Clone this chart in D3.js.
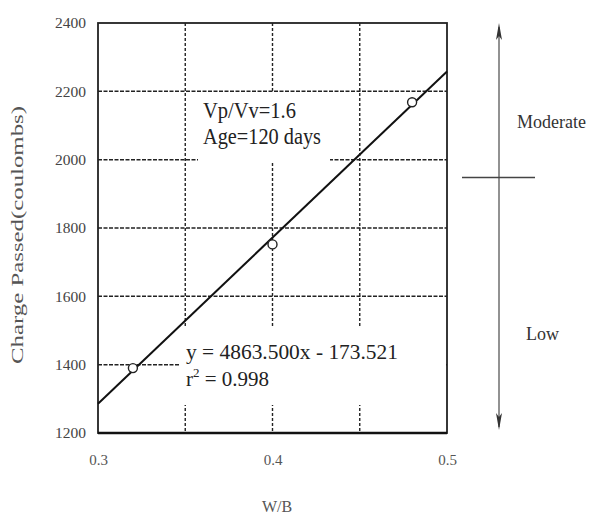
<!DOCTYPE html>
<html>
<head>
<meta charset="utf-8">
<script src="https://cdn.jsdelivr.net/npm/d3@7"></script>
<style>
  body { margin: 0; background: #fff; }
  svg { display: block; font-family: 'Liberation Serif', 'DejaVu Serif', serif; }
</style>
</head>
<body>
<svg id="chart" width="601" height="518"></svg>
<script>
// measured points
const wb = [0.32, 0.40, 0.48]
const charge = [1390, 1752, 2168]

// fit line y = a x + b
const slope = 4863.5
const intercept = -173.521

const xTicks = [0.3, 0.4, 0.5]
const xGrid = [0.35, 0.4, 0.45]
const yTicks = [1200, 1400, 1600, 1800, 2000, 2200, 2400]

// permeability classes on the right
const classBoundary = 1948
const classes = [
    { label: 'Moderate', value: 2093 },
    { label: 'Low', value: 1472 }
]

const svg = d3.select('#chart')
const x = d3.scaleLinear().domain([0.3, 0.5]).range([98, 447])
const y = d3.scaleLinear().domain([1200, 2400]).range([433, 23])

// grid
const grid = svg.append('g')
grid.selectAll('.hg')
    .data(yTicks.slice(1, -1))
    .join('line')
    .attr('x1', x(0.3)).attr('x2', x(0.5))
    .attr('y1', d => y(d)).attr('y2', d => y(d))
    .attr('stroke', '#222').attr('stroke-width', 1.5)
    .attr('stroke-dasharray', '4,1.5')
grid.selectAll('.vg')
    .data(xGrid)
    .join('line')
    .attr('x1', d => x(d)).attr('x2', d => x(d))
    .attr('y1', y(2400)).attr('y2', y(1200))
    .attr('stroke', '#222').attr('stroke-width', 1.4)
    .attr('stroke-dasharray', '3,2')

// white boxes behind the notes
svg.append('rect').attr('x', 198).attr('y', 93).attr('width', 132).attr('height', 70).attr('fill', '#fff')
svg.append('rect').attr('x', 180).attr('y', 328).attr('width', 266).attr('height', 77).attr('fill', '#fff')

// frame
svg.append('rect')
    .attr('x', x(0.3)).attr('y', y(2400))
    .attr('width', x(0.5) - x(0.3)).attr('height', y(1200) - y(2400))
    .attr('fill', 'none').attr('stroke', '#222').attr('stroke-width', 1.8)
svg.append('line')
    .attr('x1', x(0.3)).attr('x2', x(0.5)).attr('y1', y(1200)).attr('y2', y(1200))
    .attr('stroke', '#111').attr('stroke-width', 2.6)

// axes labels
const yAxis = d3.axisLeft(y).tickValues(yTicks).tickSize(0).tickPadding(12).tickFormat(d3.format('d'))
svg.append('g').attr('transform', `translate(${x(0.3)},0)`).call(yAxis)
    .call(g => g.select('.domain').remove())
    .selectAll('text')
    .attr('font-family', 'Liberation Serif').attr('font-size', 15).attr('fill', '#444')
    .attr('textLength', 31).attr('lengthAdjust', 'spacingAndGlyphs')

const xAxis = d3.axisBottom(x).tickValues(xTicks).tickSize(0).tickPadding(21).tickFormat(d3.format('.1f'))
svg.append('g').attr('transform', `translate(0,${y(1200)})`).call(xAxis)
    .call(g => g.select('.domain').remove())
    .selectAll('text')
    .attr('font-family', 'Liberation Serif').attr('font-size', 15).attr('fill', '#555')

svg.append('text')
    .attr('x', 277).attr('y', 512)
    .attr('text-anchor', 'middle')
    .attr('font-size', 16).attr('fill', '#555')
    .text('W/B')

svg.append('text')
    .attr('transform', 'translate(23,235) rotate(-90)')
    .attr('text-anchor', 'middle')
    .attr('font-size', 17).attr('fill', '#555')
    .attr('textLength', 258).attr('lengthAdjust', 'spacingAndGlyphs')
    .text('Charge Passed(coulombs)')

// fit line
svg.append('line')
    .attr('x1', x(0.3)).attr('y1', y(slope * 0.3 + intercept))
    .attr('x2', x(0.5)).attr('y2', y(slope * 0.5 + intercept))
    .attr('stroke', '#111').attr('stroke-width', 2)

// points
svg.selectAll('.pt')
    .data(wb.map((d, i) => [d, charge[i]]))
    .join('circle')
    .attr('cx', d => x(d[0])).attr('cy', d => y(d[1]))
    .attr('r', 4.5)
    .attr('fill', '#fff').attr('stroke', '#222').attr('stroke-width', 1.4)

// notes
const note = svg.append('text').attr('font-size', 23).attr('fill', '#222')
note.append('tspan').attr('x', 203).attr('y', 118).attr('textLength', 93).attr('lengthAdjust', 'spacingAndGlyphs').text('Vp/Vv=1.6')
note.append('tspan').attr('x', 203).attr('y', 144).attr('textLength', 118).attr('lengthAdjust', 'spacingAndGlyphs').text('Age=120 days')

const eq = svg.append('text').attr('font-size', 21).attr('fill', '#222')
eq.append('tspan').attr('x', 186).attr('y', 359).attr('textLength', 212).attr('lengthAdjust', 'spacingAndGlyphs').text('y = 4863.500x - 173.521')
const r2 = svg.append('text').attr('font-size', 21).attr('fill', '#222').attr('x', 186).attr('y', 386)
r2.append('tspan').text('r')
r2.append('tspan').attr('font-size', 13).attr('dy', -9).text('2')
r2.append('tspan').attr('dy', 9).text(' = 0.998')

// class scale on the right
const ax = 499
svg.append('line')
    .attr('x1', ax).attr('x2', ax).attr('y1', y(2400) + 4).attr('y2', y(1200) - 6)
    .attr('stroke', '#777').attr('stroke-width', 1.6)
const head = (ty, dir) => `M${ax},${ty} L${ax - 3},${ty + dir * 17} L${ax},${ty + dir * 13} L${ax + 3},${ty + dir * 17} Z`
svg.append('path').attr('d', head(y(2400), 1)).attr('fill', '#333')
svg.append('path').attr('d', head(y(1200) - 3, -1)).attr('fill', '#333')
svg.append('line')
    .attr('x1', 462).attr('x2', 535).attr('y1', y(classBoundary)).attr('y2', y(classBoundary))
    .attr('stroke', '#444').attr('stroke-width', 1.4)

svg.selectAll('.cls')
    .data(classes)
    .join('text')
    .attr('x', d => d.label === 'Low' ? 526 : 517)
    .attr('y', d => y(d.value))
    .attr('font-size', 18).attr('fill', '#333')
    .text(d => d.label)
</script>
</body>
</html>
